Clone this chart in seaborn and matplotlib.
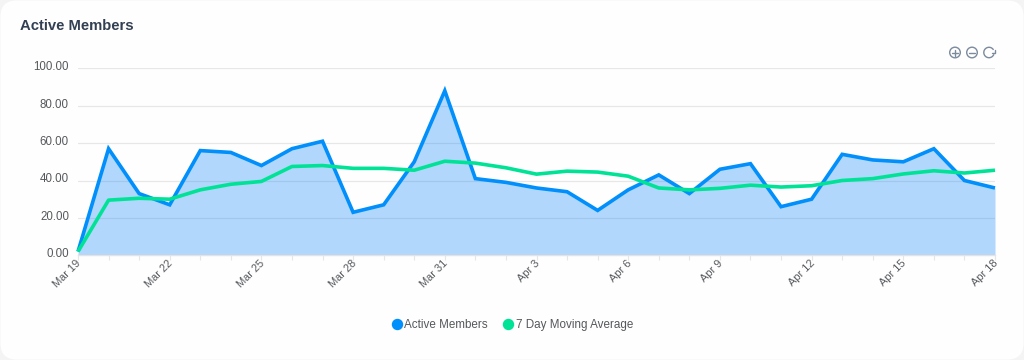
import matplotlib
matplotlib.use("Agg")
import matplotlib.pyplot as plt
import numpy as np
import pandas as pd
import seaborn as sns
from matplotlib.lines import Line2D
from matplotlib.patches import Circle, FancyBboxPatch, Arc
from matplotlib.transforms import IdentityTransform, ScaledTranslation

dates = pd.date_range("2024-03-19", "2024-04-18", freq="D")
day_labels = [d.strftime("%b ") + str(d.day) for d in dates]
active_members = [2, 57, 33, 27, 56, 55, 48, 57, 61, 23, 27, 50, 88, 41, 39, 36, 34, 24, 35, 43, 33,
                  46, 49, 26, 30, 54, 51, 50, 57, 40, 36]
moving_average = [2, 29.5, 30.5, 30, 35, 38, 39.5, 47.5, 48, 46.5, 46.5, 45.5, 50.3, 49.3, 46.8, 43.4,
                  45, 44.5, 42.3, 36, 35, 35.8, 37.5, 36.5, 37.2, 40, 41, 43.5, 45.2, 44, 45.5]
y_ticks = [0, 20, 40, 60, 80, 100]
BLUE, GREEN = "#008ffb", "#00e396"
TXT = "#55585c"

sns.set_theme(style="white")
plt.rcParams["font.family"] = ["Liberation Sans", "DejaVu Sans"]

W, H = 1024, 360
fig = plt.figure(figsize=(W / 100, H / 100), dpi=100, facecolor="#f4f4f4")
fig.add_artist(FancyBboxPatch((0.5, 0.5), W - 1, H - 1, boxstyle="round,pad=0,rounding_size=16",
                              transform=IdentityTransform(), fc="#fefefe", ec="none", zorder=-5))

L, R, T, B = 78, 995, 68.3, 255.3
ax = fig.add_axes([L / W, 1 - B / H, (R - L) / W, (B - T) / H], facecolor="none")

df = pd.DataFrame({"x": np.arange(len(dates)), "a": active_members, "m": moving_average})
ax.fill_between(df["x"], df["a"], 0, color="#0080fa", alpha=0.3, lw=0, zorder=1.5)
sns.lineplot(data=df, x="x", y="a", ax=ax, color=BLUE, lw=2.6, zorder=3, clip_on=False,
             solid_joinstyle="miter", solid_capstyle="butt")
sns.lineplot(data=df, x="x", y="m", ax=ax, color=GREEN, lw=2.6, zorder=4, clip_on=False,
             solid_joinstyle="round", solid_capstyle="butt")

ax.set_xlim(0, len(dates) - 1)
ax.set_ylim(0, 100)
ax.set_xlabel("")
ax.set_ylabel("")
ax.set_yticks(y_ticks, [f"{v:.2f}" for v in y_ticks])
ax.set_xticks(df["x"][::3], day_labels[::3])
ax.set_xticks(df["x"], minor=True)
ax.grid(axis="y", color="#e7e7e7", lw=0.9, zorder=1)
ax.set_axisbelow(True)
for s in ["top", "right", "left"]:
    ax.spines[s].set_visible(False)
ax.spines["bottom"].set_color("#e3e3e3")
ax.spines["bottom"].set_linewidth(1)
ax.tick_params(axis="y", length=0, pad=6.5, labelsize=8.3, labelcolor=TXT)
ax.tick_params(axis="x", which="both", length=3.5, width=0.8, color="#e6e6e6", bottom=True)
ax.tick_params(axis="x", which="major", pad=1, labelsize=7.9, labelcolor=TXT)
up = ScaledTranslation(0, 2.5 / 100, fig.dpi_scale_trans)
for lab in ax.get_yticklabels():
    lab.set_transform(lab.get_transform() + up)
shift = ScaledTranslation(-2 / 100, 3.5 / 100, fig.dpi_scale_trans)
for lab in ax.get_xticklabels():
    lab.set_rotation(45)
    lab.set_ha("right")
    lab.set_va("top")
    lab.set_rotation_mode("anchor")
    lab.set_transform(lab.get_transform() + shift)

fig.text(20 / W, 1 - 25.5 / H, "Active Members", fontsize=10.7, fontweight="bold",
         color="#333f52", ha="left", va="center")

handles = [Line2D([], [], ls="none", marker="o", ms=7.2, color=BLUE, label="Active Members"),
           Line2D([], [], ls="none", marker="o", ms=7.2, color=GREEN, label="7 Day Moving Average")]
fig.legend(handles=handles, ncol=2, loc="center", bbox_to_anchor=(509 / W, 1 - 325 / H), frameon=False,
           fontsize=8.4, labelcolor=TXT, handletextpad=-0.35, columnspacing=0.75, borderpad=0)

# toolbar icons
ic = "#7b8a9c"
tr = IdentityTransform()
def px(x, y):
    return x, H - y
for cx in (955, 972):
    fig.add_artist(Circle(px(cx, 52.5), 5.3, fc="none", ec=ic, lw=1, transform=tr))
    fig.add_artist(Line2D([cx - 3, cx + 3], [H - 52.5] * 2, color=ic, lw=1, transform=tr))
fig.add_artist(Line2D([955, 955], [H - 55.5, H - 49.5], color=ic, lw=1, transform=tr))
fig.add_artist(Arc(px(989, 52.5), 10.4, 10.4, theta1=30, theta2=340, ec=ic, lw=1, transform=tr))
fig.add_artist(Line2D([991.5, 994.5, 994.5], [H - 52.5, H - 52.5, H - 49.5], color=ic, lw=1, transform=tr))

fig.savefig("out.png", dpi=100, facecolor=fig.get_facecolor())
